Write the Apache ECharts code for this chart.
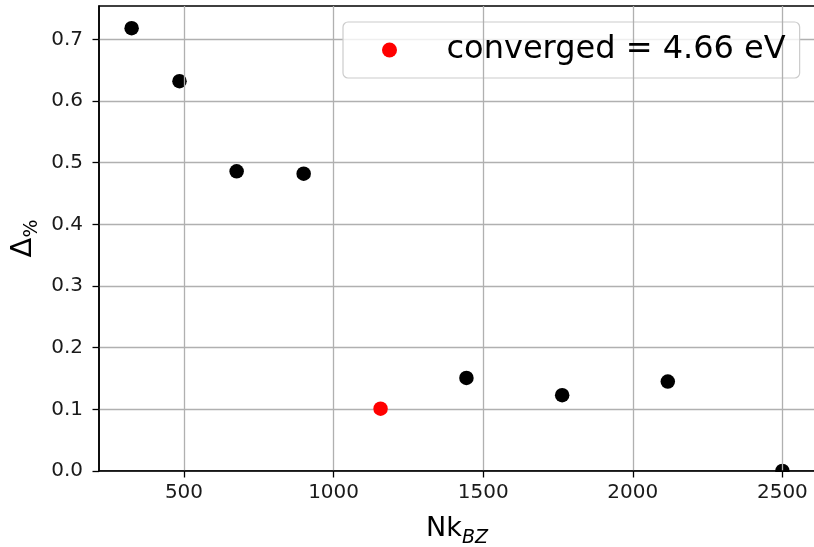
<!DOCTYPE html>
<html>
<head>
<meta charset="utf-8">
<script src="https://cdn.jsdelivr.net/npm/echarts@6/dist/echarts.min.js"></script>
<style>
html,body{margin:0;padding:0;background:#fff;}
#chart{width:814px;height:547px;}
</style>
</head>
<body>
<div id="chart"></div>
<script>
// Data
const nkBZ      = [325, 485, 676, 900, 1444, 1764, 2117, 2500];
const deltaPct  = [0.718, 0.632, 0.486, 0.482, 0.151, 0.123, 0.145, 0.0];
const convNk    = [1157];
const convDelta = [0.101];
const convName  = 'converged = 4.66 eV';
const xTicks = [500, 1000, 1500, 2000, 2500];
const yTicks = [0.0, 0.1, 0.2, 0.3, 0.4, 0.5, 0.6, 0.7];

const FONT = 'DejaVu Sans';
const chart = echarts.init(document.getElementById('chart'), null, {renderer: 'canvas'});

const blackPts = nkBZ.map((x, i) => [x, deltaPct[i]]);
const redPts = convNk.map((x, i) => [x, convDelta[i]]);

const option = {
  backgroundColor: '#ffffff',
  animation: false,
  grid: {
    left: 99, right: -1, top: 6, bottom: 76,
    containLabel: false,
    outerBoundsMode: 'none',
    show: true, borderColor: '#000', borderWidth: 1.5, backgroundColor: 'transparent'
  },
  legend: {
    data: [convName],
    left: 343, top: 22,
    orient: 'horizontal',
    padding: [10, 14, 10, 39],
    itemWidth: 30, itemHeight: 15,
    backgroundColor: 'rgba(255,255,255,0.8)',
    borderColor: '#cccccc', borderWidth: 1.2, borderRadius: 5,
    icon: 'circle',
    textStyle: {fontFamily: FONT, fontSize: 32, color: '#000', lineHeight: 36, padding: [0, 0, 0, 37]}
  },
  xAxis: {
    type: 'value',
    min: 216, max: 2609,
    z: 4,
    name: '{a|Nk}{b|BZ}',
    nameLocation: 'middle',
    nameGap: 43,
    nameMoveOverlap: false,
    nameTextStyle: {
      rich: {
        a: {fontFamily: FONT, fontSize: 27, color: '#000', lineHeight: 30},
        b: {fontFamily: FONT, fontSize: 19, fontStyle: 'italic', color: '#000', lineHeight: 19, padding: [18, 0, 0, 0]}
      }
    },
    axisLine: {show: true, onZero: false, lineStyle: {color: '#000', width: 1.5}},
    axisTick: {show: true, customValues: xTicks, length: 6.5, lineStyle: {color: '#000', width: 1.3}},
    axisLabel: {customValues: xTicks, fontFamily: FONT, fontSize: 20, color: '#1a1a1a', margin: 12,
      formatter: v => String(Math.round(v))},
    splitLine: {show: true, lineStyle: {color: '#b0b0b0', width: 1.3}}
  },
  yAxis: {
    type: 'value',
    min: 0, max: 0.754,
    name: '{a|Δ}{b|%}',
    nameLocation: 'middle',
    nameRotate: 90,
    nameGap: 61,
    nameMoveOverlap: false,
    nameTextStyle: {
      rich: {
        a: {fontFamily: FONT, fontSize: 29, color: '#000', lineHeight: 30},
        b: {fontFamily: FONT, fontSize: 19, color: '#000', lineHeight: 19, padding: [18, 0, 0, 0]}
      }
    },
    axisLine: {show: true, onZero: false, lineStyle: {color: '#000', width: 1.5}},
    axisTick: {show: true, customValues: yTicks, length: 6.5, lineStyle: {color: '#000', width: 1.3}},
    axisLabel: {customValues: yTicks, fontFamily: FONT, fontSize: 20, color: '#1a1a1a', margin: 16,
      formatter: v => Number(v).toFixed(1)},
    splitLine: {show: true, lineStyle: {color: '#b0b0b0', width: 1.3}}
  },
  graphic: [{
    type: 'rect', z: 3, silent: true,
    left: 99, bottom: 0,
    shape: {width: 715, height: 75},
    style: {fill: '#ffffff'}
  }],
  series: [
    {
      type: 'scatter', name: 'data', data: blackPts,
      symbol: 'circle', symbolSize: 14.5,
      itemStyle: {color: '#000000', opacity: 1}, z: 2
    },
    {
      type: 'scatter', name: convName, data: redPts,
      symbol: 'circle', symbolSize: 14.5,
      itemStyle: {color: '#ff0000', opacity: 1}, z: 2
    }
  ]
};
chart.setOption(option);
</script>
</body>
</html>
